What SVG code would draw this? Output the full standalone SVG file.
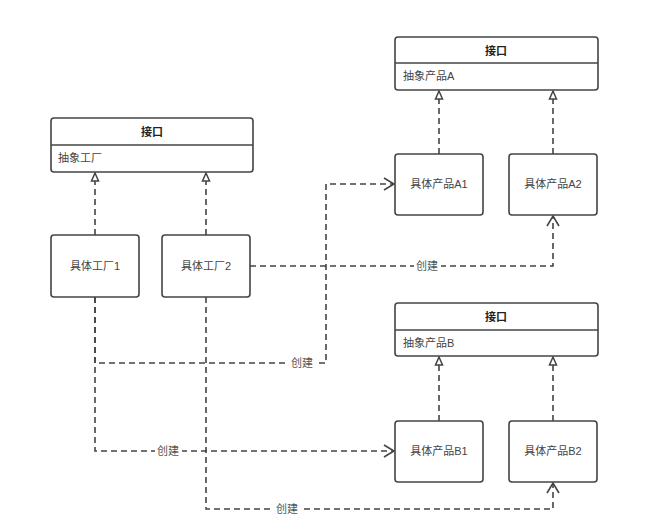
<svg xmlns="http://www.w3.org/2000/svg" width="655" height="527" viewBox="0 0 655 527">
<defs>
<style>
.box{fill:#fff;stroke:#444;stroke-width:1.6}
.div{stroke:#444;stroke-width:1.3}
.t{font-family:"Liberation Sans","Noto Sans CJK SC",sans-serif;font-size:11px;fill:#444}
.b{font-weight:bold;fill:#222;text-anchor:middle}
.c{text-anchor:middle}
.e{fill:none;stroke:#444;stroke-width:1.6;stroke-dasharray:6 4}
.lbl{font-family:"Liberation Sans","Noto Sans CJK SC",sans-serif;font-size:11px;fill:#555;text-anchor:middle}
</style>
<marker id="tri" markerWidth="12" markerHeight="12" refX="10" refY="6" orient="auto" markerUnits="userSpaceOnUse" viewBox="0 0 12 12">
<path d="M10,6 L2,2.5 L2,9.5 Z" fill="#fff" stroke="#444" stroke-width="1.5"/>
</marker>
<marker id="open" markerWidth="14" markerHeight="14" refX="12" refY="7" orient="auto" markerUnits="userSpaceOnUse" viewBox="0 0 14 14">
<path d="M2,1 L12,7 L2,13" fill="none" stroke="#444" stroke-width="1.6"/>
</marker>
</defs>
<rect width="655" height="527" fill="#fff"/>
<g id="connectors">
<line class="e" x1="95" y1="235" x2="95" y2="173" marker-end="url(#tri)"/>
<line class="e" x1="206" y1="235" x2="206" y2="173" marker-end="url(#tri)"/>
<line class="e" x1="439" y1="154" x2="439" y2="91" marker-end="url(#tri)"/>
<line class="e" x1="553" y1="154" x2="553" y2="91" marker-end="url(#tri)"/>
<line class="e" x1="439" y1="421" x2="439" y2="357" marker-end="url(#tri)"/>
<line class="e" x1="553" y1="421" x2="553" y2="357" marker-end="url(#tri)"/>
<polyline class="e" points="250,266 553,266 553,216" marker-end="url(#open)"/>
<polyline class="e" points="95,297 95,363 326,363 326,184 394,184" marker-end="url(#open)"/>
<polyline class="e" points="95,297 95,451 394,451" marker-end="url(#open)"/>
<polyline class="e" points="206,297 206,509 553,509 553,483" marker-end="url(#open)"/>
<rect x="414" y="259" width="27" height="14" fill="#fff"/>
<text class="lbl" x="427" y="270">创建</text>
<rect x="289" y="356" width="27" height="14" fill="#fff"/>
<text class="lbl" x="302" y="367">创建</text>
<rect x="155" y="444" width="27" height="14" fill="#fff"/>
<text class="lbl" x="168" y="455">创建</text>
<rect x="274" y="502" width="27" height="14" fill="#fff"/>
<text class="lbl" x="287" y="513">创建</text>
</g>
<g id="ifaceFactory">
<rect class="box" x="51" y="118" width="202" height="54" rx="3"/>
<line class="div" x1="51" y1="145" x2="253" y2="145"/>
<text class="t b" x="152" y="136">接口</text>
<text class="t" x="58" y="162">抽象工厂</text>
</g>
<g id="factory1">
<rect class="box" x="51" y="235" width="88" height="62" rx="3"/>
<text class="t c" x="95" y="270">具体工厂1</text>
</g>
<g id="factory2">
<rect class="box" x="162" y="235" width="88" height="62" rx="3"/>
<text class="t c" x="206" y="270">具体工厂2</text>
</g>
<g id="ifaceA">
<rect class="box" x="395" y="37" width="203" height="53" rx="3"/>
<line class="div" x1="395" y1="63" x2="598" y2="63"/>
<text class="t b" x="496" y="55">接口</text>
<text class="t" x="403" y="80">抽象产品A</text>
</g>
<g id="productA1">
<rect class="box" x="395" y="154" width="88" height="61" rx="3"/>
<text class="t c" x="439" y="188">具体产品A1</text>
</g>
<g id="productA2">
<rect class="box" x="509" y="154" width="88" height="61" rx="3"/>
<text class="t c" x="553" y="188">具体产品A2</text>
</g>
<g id="ifaceB">
<rect class="box" x="395" y="303" width="203" height="53" rx="3"/>
<line class="div" x1="395" y1="330" x2="598" y2="330"/>
<text class="t b" x="496" y="321">接口</text>
<text class="t" x="403" y="347">抽象产品B</text>
</g>
<g id="productB1">
<rect class="box" x="395" y="421" width="88" height="61" rx="3"/>
<text class="t c" x="439" y="455">具体产品B1</text>
</g>
<g id="productB2">
<rect class="box" x="509" y="421" width="88" height="61" rx="3"/>
<text class="t c" x="553" y="455">具体产品B2</text>
</g>
</svg>
